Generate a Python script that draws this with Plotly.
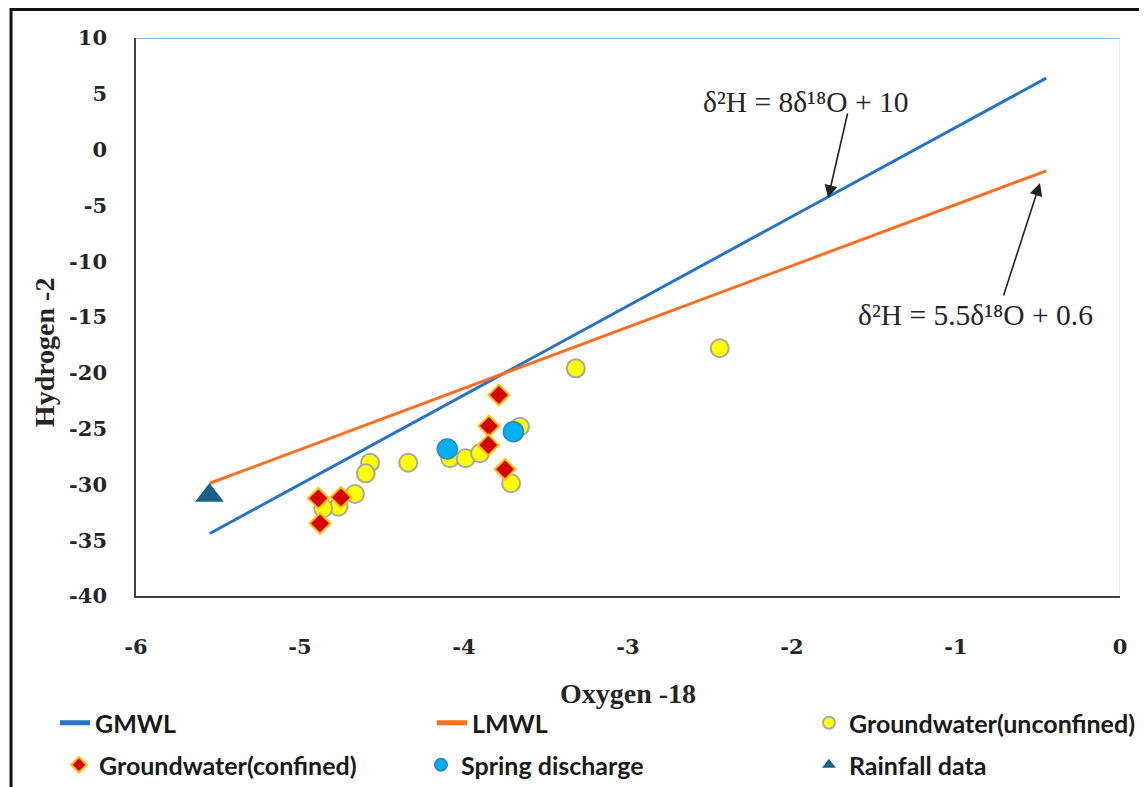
import plotly.graph_objects as go

# ---- data ----
gmwl_x = [-5.55, -0.45]
gmwl_y = [-34.4, 6.4]
lmwl_x = [-5.55, -0.45]
lmwl_y = [-29.9, -1.9]

unconf_x = [-4.573, -4.599, -4.340, -4.665, -4.766, -4.858, -4.085, -3.990, -3.902, -3.659, -3.713, -3.318, -2.441]
unconf_y = [-28.06, -29.01, -28.06, -30.86, -32.00, -32.14, -27.66, -27.66, -27.21, -24.83, -29.90, -19.60, -17.80]

conf_x = [-3.787, -3.848, -3.852, -3.750, -4.888, -4.750, -4.878]
conf_y = [-21.99, -24.77, -26.47, -28.65, -31.25, -31.16, -33.49]

spring_x = [-4.102, -3.699]
spring_y = [-26.83, -25.28]

rain_x = [-5.552]
rain_y = [-31.0]

x_ticks = [-6, -5, -4, -3, -2, -1, 0]
y_ticks = [10, 5, 0, -5, -10, -15, -20, -25, -30, -35, -40]

eq1_text = "δ²H = 8δ¹⁸O + 10"
eq2_text = "δ²H = 5.5δ¹⁸O + 0.6"
x_title = "Oxygen -18"
y_title = "Hydrogen -2"

fig = go.Figure()
fig.add_trace(go.Scatter(x=gmwl_x, y=gmwl_y, mode="lines", name="GMWL", legend="legend",
                         line=dict(color="#2673c8", width=3)))
fig.add_trace(go.Scatter(x=lmwl_x, y=lmwl_y, mode="lines", name="LMWL", legend="legend2",
                         line=dict(color="#fb6f22", width=3)))
fig.add_trace(go.Scatter(x=unconf_x, y=unconf_y, mode="markers", name="Groundwater(unconfined)",
                         legend="legend3",
                         marker=dict(symbol="circle", size=18, color="#ffff00",
                                     line=dict(color="#a8a8a0", width=2))))
fig.add_trace(go.Scatter(x=conf_x, y=conf_y, mode="markers", name="Groundwater(confined)",
                         legend="legend4",
                         marker=dict(symbol="diamond", size=16, color="#d40000",
                                     line=dict(color="#ffc000", width=2))))
fig.add_trace(go.Scatter(x=spring_x, y=spring_y, mode="markers", name="Spring discharge",
                         legend="legend5",
                         marker=dict(symbol="circle", size=20, color="#00b0f0",
                                     line=dict(color="#2f85c8", width=1.5))))
fig.add_trace(go.Scatter(x=rain_x, y=rain_y, mode="markers", name="Rainfall data",
                         legend="legend6",
                         marker=dict(symbol="triangle-up", size=25, color="#1b5e8c",
                                     line=dict(width=0))))

tick_font = dict(family="DejaVu Serif, Liberation Serif, serif", size=21, color="#262626", weight="bold")
title_font = dict(family="Liberation Serif", size=28, color="#262626")
leg_font = dict(family="Lato", size=25, color="#1a1a1a", weight="bold")
eq_font = dict(family="Liberation Serif", size=29.5, color="#262626")

fig.update_xaxes(range=[-6, 0], tickvals=x_ticks, ticktext=[str(v) for v in x_ticks],
                 showgrid=False, zeroline=False, showline=True, linecolor="#404040", linewidth=1.5,
                 ticks="", ticklabelstandoff=31, tickfont=tick_font, automargin=False)
fig.update_yaxes(range=[-40, 10], tickvals=y_ticks, ticktext=[str(v) for v in y_ticks],
                 showgrid=False, zeroline=False, showline=True, linecolor="#404040", linewidth=1.5,
                 ticks="", ticklabelstandoff=23, tickfont=tick_font, automargin=False)


def leg(xp, yp):
    return dict(x=xp, y=yp, xanchor="left", yanchor="middle", orientation="v",
                font=leg_font, bgcolor="rgba(0,0,0,0)", itemsizing="constant", borderwidth=0)


row1, row2 = -0.2276, -0.3029

fig.update_layout(
    width=1147, height=787,
    margin=dict(l=128, r=35, t=30, b=199, autoexpand=False),
    paper_bgcolor="white", plot_bgcolor="white",
    font=dict(family="Liberation Serif", color="#262626"),
    showlegend=True,
    legend=leg(-0.0823, row1),
    legend2=leg(0.3008, row1),
    legend3=leg(0.6839, row1),
    legend4=leg(-0.0783, row2),
    legend5=leg(0.2896, row2),
    legend6=leg(0.6839, row2),
    shapes=[
        dict(type="line", xref="x", yref="y", x0=-6, x1=0, y0=10, y1=10,
             line=dict(color="#5b9bd5", width=1.5)),
        dict(type="line", xref="x", yref="y", x0=0, x1=0, y0=-40, y1=10,
             line=dict(color="#d9d9d9", width=1)),
        dict(type="rect", xref="paper", yref="paper", x0=-0.127, x1=1.0234, y0=-0.36, y1=1.0511,
             line=dict(color="#111111", width=3), fillcolor="rgba(0,0,0,0)", layer="below"),
    ],
    annotations=[
        dict(x=0.5, y=-0.1756, xref="paper", yref="paper", text="<b>" + x_title + "</b>",
             xanchor="center", yanchor="middle", showarrow=False, font=title_font),
        dict(x=-0.0935, y=0.437, xref="paper", yref="paper", text="<b>" + y_title + "</b>",
             xanchor="center", yanchor="middle", showarrow=False, textangle=-90, font=title_font),
        dict(x=-1.915, y=4.27, xref="x", yref="y", text=eq1_text, showarrow=False, font=eq_font),
        dict(x=-1.780, y=-4.34, ax=-1.659, ay=3.37, xref="x", yref="y", axref="x", ayref="y",
             text="", showarrow=True, arrowhead=2, arrowsize=1.6, arrowwidth=1.6, arrowcolor="#222222"),
        dict(x=-0.884, y=-14.82, xref="x", yref="y", text=eq2_text, showarrow=False, font=eq_font),
        dict(x=-0.488, y=-2.99, ax=-0.713, ay=-13.21, xref="x", yref="y", axref="x", ayref="y",
             text="", showarrow=True, arrowhead=2, arrowsize=1.6, arrowwidth=1.6, arrowcolor="#222222"),
    ],
)

fig.write_html("out.html")
